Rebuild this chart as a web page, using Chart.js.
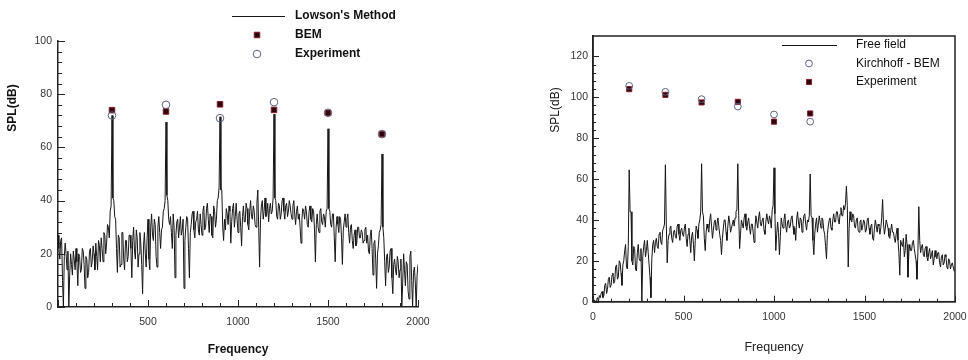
<!DOCTYPE html>
<html>
<head>
<meta charset="utf-8">
<script src="https://cdn.jsdelivr.net/npm/chart.js@4.4.0/dist/chart.umd.min.js"></script>
<style>
  html, body { margin: 0; padding: 0; background: #fff; }
  #wrap { position: relative; width: 968px; height: 360px; }
  .box { position: absolute; top: 0; width: 484px; height: 360px; }
  #boxL { left: 0; }
  #boxR { left: 484px; }
</style>
</head>
<body>
<div id="wrap">
  <div class="box" id="boxL"><canvas id="chartL" width="484" height="360"></canvas></div>
  <div class="box" id="boxR"><canvas id="chartR" width="484" height="360"></canvas></div>
</div>
<script>
// spectrum sampled every 5 Hz, 0..2000
var freq = Array.from({ length: 401 }, function (v, i) { return i * 5; });

// left chart: Lowson's method spectrum (one row = 100 Hz)
var lowsonSpl = [
  27, 22, 18, 25, 26, 10, 0, 19, 24, 20, 14, 21, 0, 12, 20, 16, 12, 21, 18, 14,
  22, 17, 8, 20, 19, 13, 14, 22, 21, 16, 7, 19, 18, 11, 13, 21, 22, 15, 17, 23,
  20, 14, 24, 19, 14, 25, 23, 17, 26, 22, 17, 28, 27, 20, 24, 31, 30, 26, 36, 38,
  72, 41, 40, 34, 33, 22, 13, 27, 26, 15, 16, 28, 28, 18, 14, 25, 25, 17, 19, 27,
  27, 22, 11, 25, 30, 21, 18, 29, 26, 15, 20, 28, 24, 16, 5, 23, 28, 20, 15, 26,
  33, 18, 14, 30, 35, 27, 25, 33, 31, 19, 15, 30, 34, 28, 22, 29, 30, 36, 37, 40,
  69.5, 42, 40, 33, 31, 34, 28, 22, 35, 30, 11, 27, 32, 33, 26, 30, 34, 27, 29, 33,
  7, 25, 30, 34, 33, 22, 11, 28, 31, 35, 36, 29, 26, 32, 33, 36, 29, 27, 35, 31,
  27, 36, 38, 29, 30, 37, 39, 33, 28, 35, 34, 27, 26, 38, 36, 30, 33, 40, 41, 45,
  71.5, 44, 44, 30, 25, 33, 29, 37, 35, 31, 38, 36, 24, 32, 37, 39, 30, 34, 39, 33,
  28, 35, 36, 30, 23, 34, 38, 32, 32, 39, 37, 31, 29, 36, 40, 34, 33, 38, 36, 31,
  30, 39, 44, 30, 15, 33, 38, 40, 33, 36, 41, 34, 35, 39, 32, 37, 39, 35, 36, 41,
  72.5, 41, 40, 34, 33, 39, 38, 33, 35, 40, 41, 36, 33, 38, 39, 34, 36, 40, 38, 35,
  33, 38, 40, 35, 31, 36, 38, 33, 35, 30, 24, 33, 37, 36, 33, 38, 36, 31, 30, 36,
  38, 33, 32, 37, 36, 29, 17, 31, 35, 30, 28, 36, 37, 32, 31, 35, 34, 30, 36, 37,
  67, 37, 36, 31, 30, 35, 35, 26, 17, 30, 34, 31, 28, 34, 33, 26, 16, 29, 32, 35,
  30, 33, 35, 28, 24, 30, 31, 25, 22, 27, 29, 23, 24, 30, 30, 26, 26, 29, 28, 24,
  25, 29, 30, 24, 27, 21, 20, 27, 29, 22, 12, 24, 25, 18, 7, 20, 23, 28, 29, 31,
  57.5, 30, 26, 17, 8, 19, 20, 13, 15, 21, 22, 11, 5, 16, 18, 14, 12, 19, 17, 11,
  14, 18, 0, 9, 20, 14, 8, 17, 16, 6, 3, 19, 21, 10, 0, 13, 15, 9, 0, 12,
  16
];
var harmLeft = [300, 600, 900, 1200, 1500, 1800];
var bemLeft = [74, 73.5, 76.2, 74.1, 73, 65];
var expLeft = [72, 76, 71, 77, 73, 65];

// right chart: free field spectrum (one row = 100 Hz)
var freeFieldSpl = [
  0, 1, 0, 0, 1, 2, 0, 3, 2, 4, 5, 2, 3, 8, 9, 4, 6, 11, 12, 7,
  8, 13, 14, 9, 10, 17, 18, 11, 12, 20, 19, 14, 8, 18, 20, 25, 28, 17, 16, 27,
  64.5, 44, 44, 20, 18, 27, 26, 16, 15, 24, 28, 21, 20, 26, 0, 22, 27, 30, 22, 25,
  30, 24, 18, 12, 2, 21, 28, 30, 24, 29, 31, 27, 26, 33, 34, 29, 28, 35, 36, 38,
  67, 38, 19, 30, 33, 36, 37, 31, 29, 34, 35, 32, 31, 37, 38, 33, 30, 35, 36, 33,
  32, 36, 38, 31, 27, 33, 36, 30, 24, 32, 34, 28, 20, 30, 37, 35, 31, 38, 40, 44,
  67.5, 44, 42, 31, 25, 34, 38, 36, 34, 40, 43, 37, 31, 35, 39, 40, 35, 38, 41, 37,
  33, 30, 23, 31, 36, 40, 40, 34, 30, 37, 42, 39, 34, 36, 38, 40, 37, 41, 44, 45,
  67.5, 42, 26, 33, 40, 38, 36, 41, 43, 37, 35, 39, 41, 36, 33, 38, 38, 34, 29, 36,
  42, 39, 36, 41, 44, 38, 37, 40, 41, 35, 33, 39, 43, 40, 38, 42, 40, 36, 45, 47,
  65.5, 43, 25, 33, 39, 34, 23, 32, 41, 38, 36, 40, 43, 37, 34, 39, 40, 36, 37, 41,
  42, 37, 33, 36, 30, 40, 44, 39, 36, 41, 40, 34, 38, 42, 43, 38, 35, 40, 39, 42,
  62.5, 42, 41, 30, 23, 33, 38, 41, 34, 38, 42, 39, 36, 41, 40, 35, 33, 27, 21, 33,
  37, 40, 41, 36, 35, 40, 43, 39, 39, 44, 44, 40, 38, 43, 46, 42, 42, 47, 45, 48,
  56.5, 47, 17, 36, 44, 40, 39, 43, 42, 37, 36, 40, 41, 35, 34, 39, 40, 35, 37, 40,
  39, 34, 35, 40, 41, 36, 33, 37, 38, 31, 30, 36, 40, 37, 34, 38, 37, 33, 36, 41,
  50, 38, 33, 36, 40, 38, 36, 32, 31, 35, 38, 34, 34, 31, 29, 33, 36, 30, 24, 13,
  30, 28, 27, 31, 22, 25, 33, 28, 12, 24, 28, 25, 25, 29, 30, 26, 23, 20, 11, 24,
  46.5, 30, 24, 27, 28, 23, 22, 26, 27, 22, 20, 24, 26, 21, 23, 25, 18, 21, 25, 22,
  21, 24, 24, 19, 17, 22, 23, 18, 19, 23, 22, 17, 16, 21, 20, 16, 18, 19, 17, 15,
  15
];
var harmRight = [200, 400, 600, 800, 1000, 1200];
var kirchhoffRight = [105.6, 102.7, 99.1, 95.5, 91.6, 88.1];
var expRight = [104, 101.2, 97.5, 97.8, 88.1, 92.1];

// tick labels
var xLabelsLeft = [500, 1000, 1500, 2000];
var yLabelsLeft = [0, 20, 40, 60, 80, 100];
var xLabelsRight = [0, 500, 1000, 1500, 2000];
var yLabelsRight = [0, 20, 40, 60, 80, 100, 120];

function pairs(xs, ys) {
  return ys.map(function (v, i) { return { x: xs[i], y: v }; });
}

var innerTicks = {
  id: 'innerTicks',
  afterDraw: function (chart, args, opts) {
    var ctx = chart.ctx;
    var area = chart.chartArea;
    var xs = chart.scales.x, ys = chart.scales.y;
    ctx.save();
    ctx.strokeStyle = '#222';
    ctx.lineWidth = 1;
    ctx.beginPath();
    xs.ticks.forEach(function (t) {
      var px = Math.round(xs.getPixelForValue(t.value)) + 0.5;
      var len = t.value % opts.xMajor === 0 ? opts.major : opts.minor;
      ctx.moveTo(px, area.bottom);
      ctx.lineTo(px, area.bottom - len);
    });
    ys.ticks.forEach(function (t) {
      if (t.value > opts.yTop) return;
      var py = Math.round(ys.getPixelForValue(t.value)) + 0.5;
      var len = t.value % opts.yMajor === 0 ? opts.major : opts.minor;
      ctx.moveTo(area.left, py);
      ctx.lineTo(area.left + len, py);
    });
    ctx.stroke();
    if (opts.box) {
      ctx.lineWidth = 1.5;
      ctx.strokeRect(area.left, area.top, area.right - area.left, area.bottom - area.top);
    }
    ctx.restore();
  }
};

var sideLegend = {
  id: 'sideLegend',
  afterDraw: function (chart, args, opts) {
    var ctx = chart.ctx;
    ctx.save();
    ctx.font = opts.font;
    ctx.textBaseline = 'middle';
    chart.data.datasets.forEach(function (ds, i) {
      var y = opts.top + i * opts.rowH;
      if (ds.showLine !== false) {
        ctx.strokeStyle = ds.borderColor;
        ctx.lineWidth = 1;
        ctx.beginPath();
        ctx.moveTo(opts.lineX0, y + 0.5);
        ctx.lineTo(opts.lineX1, y + 0.5);
        ctx.stroke();
      } else {
        var r = ds.pointRadius;
        ctx.fillStyle = ds.pointBackgroundColor;
        ctx.strokeStyle = ds.pointBorderColor;
        ctx.lineWidth = 1;
        ctx.beginPath();
        if (ds.pointStyle === 'rect') {
          var h = r * Math.SQRT1_2;
          ctx.rect(opts.markX - h, y - h, 2 * h, 2 * h);
        } else {
          ctx.arc(opts.markX, y, r, 0, Math.PI * 2);
        }
        ctx.fill();
        ctx.stroke();
      }
      ctx.fillStyle = '#111';
      ctx.fillText(ds.label, opts.textX, y);
    });
    // rotated y axis title
    ctx.translate(opts.yTitleX, opts.yTitleY);
    ctx.rotate(-Math.PI / 2);
    ctx.font = opts.yTitleFont;
    ctx.textAlign = 'center';
    ctx.fillText(opts.yTitle, 0, 0);
    ctx.restore();
  }
};

var tickFont = { family: 'Liberation Sans', size: 10.5 };

// ---- left chart ----
new Chart(document.getElementById('chartL').getContext('2d'), {
  type: 'line',
  data: {
    datasets: [{
      label: "Lowson's Method",
      data: pairs(freq, lowsonSpl),
      borderColor: '#151515',
      borderWidth: 1,
      pointRadius: 0,
      tension: 0,
      order: 3
    }, {
      label: 'BEM',
      data: pairs(harmLeft, bemLeft),
      showLine: false,
      pointStyle: 'rect',
      pointRadius: 3.9,
      pointBackgroundColor: '#2a0509',
      pointBorderColor: '#8a1c2a',
      pointBorderWidth: 1,
      order: 2
    }, {
      label: 'Experiment',
      data: pairs(harmLeft, expLeft),
      showLine: false,
      pointStyle: 'circle',
      pointRadius: 3.8,
      pointBackgroundColor: 'rgba(255,255,255,0)',
      pointBorderColor: '#5a6484',
      pointBorderWidth: 1,
      order: 1
    }]
  },
  options: {
    responsive: false,
    animation: false,
    layout: { padding: { left: 0, right: 66, top: 41, bottom: 0 } },
    plugins: {
      legend: { display: false },
      tooltip: { enabled: false },
      innerTicks: { xMajor: 500, yMajor: 20, major: 7, minor: 4, yTop: 100, box: false },
      sideLegend: {
        font: 'bold 12px "Liberation Sans"', top: 16, rowH: 19,
        lineX0: 232, lineX1: 285, markX: 257, textX: 295,
        yTitle: 'SPL(dB)', yTitleX: 13, yTitleY: 108, yTitleFont: 'bold 12px "Liberation Sans"'
      }
    },
    scales: {
      x: {
        type: 'linear', min: 0, max: 2000,
        grid: { display: false, drawTicks: false },
        border: { display: true, color: '#222', width: 1.5 },
        ticks: {
          stepSize: 100, autoSkip: false, maxRotation: 0, padding: 9,
          color: '#333', font: tickFont,
          callback: function (v) { return xLabelsLeft.includes(v) ? String(v) : ''; }
        },
        title: {
          display: true, text: 'Frequency', color: '#111',
          font: { family: 'Liberation Sans', size: 12, weight: 'bold' },
          padding: { top: 0, bottom: 3 }
        },
        afterFit: function (s) { s.height = 53; }
      },
      y: {
        min: 0, max: 100,
        grid: { display: false, drawTicks: false },
        border: { display: true, color: '#222', width: 1.5 },
        ticks: {
          stepSize: 4, autoSkip: false, padding: 6,
          color: '#333', font: tickFont,
          callback: function (v) { return yLabelsLeft.includes(v) ? String(v) : ''; }
        },
        afterFit: function (s) { s.width = 58; }
      }
    }
  },
  plugins: [innerTicks, sideLegend]
});

// ---- right chart ----
new Chart(document.getElementById('chartR').getContext('2d'), {
  type: 'line',
  data: {
    datasets: [{
      label: 'Free field',
      data: pairs(freq, freeFieldSpl),
      borderColor: '#151515',
      borderWidth: 1,
      pointRadius: 0,
      tension: 0,
      order: 3
    }, {
      label: 'Kirchhoff - BEM',
      data: pairs(harmRight, kirchhoffRight),
      showLine: false,
      pointStyle: 'circle',
      pointRadius: 3.4,
      pointBackgroundColor: 'rgba(255,255,255,0)',
      pointBorderColor: '#5a6484',
      pointBorderWidth: 1,
      order: 1
    }, {
      label: 'Experiment',
      data: pairs(harmRight, expRight),
      showLine: false,
      pointStyle: 'rect',
      pointRadius: 3.6,
      pointBackgroundColor: '#2a0509',
      pointBorderColor: '#8a1c2a',
      pointBorderWidth: 1,
      order: 2
    }]
  },
  options: {
    responsive: false,
    animation: false,
    layout: { padding: { left: 0, right: 13, top: 36, bottom: 0 } },
    plugins: {
      legend: { display: false },
      tooltip: { enabled: false },
      innerTicks: { xMajor: 500, yMajor: 20, major: 6, minor: 3, yTop: 120, box: true },
      sideLegend: {
        font: '12px "Liberation Sans"', top: 45, rowH: 18.5,
        lineX0: 298, lineX1: 353, markX: 325, textX: 372,
        yTitle: 'SPL(dB)', yTitleX: 72, yTitleY: 110, yTitleFont: '12px "Liberation Sans"'
      }
    },
    scales: {
      x: {
        type: 'linear', min: 0, max: 2000,
        grid: { display: false, drawTicks: false },
        border: { display: true, color: '#222', width: 1.5 },
        ticks: {
          stepSize: 100, autoSkip: false, maxRotation: 0, padding: 9,
          color: '#333', font: tickFont,
          callback: function (v) { return xLabelsRight.includes(v) ? String(v) : ''; }
        },
        title: {
          display: true, text: 'Frequency', color: '#222',
          font: { family: 'Liberation Sans', size: 12.5 },
          padding: { top: 0, bottom: 5 }
        },
        afterFit: function (s) { s.height = 58.3; s.paddingRight = 0; }
      },
      y: {
        min: 0, max: 130,
        grid: { display: false, drawTicks: false },
        border: { display: true, color: '#222', width: 1.5 },
        ticks: {
          stepSize: 4, autoSkip: false, padding: 5,
          color: '#333', font: tickFont,
          callback: function (v) { return yLabelsRight.includes(v) ? String(v) : ''; }
        },
        afterFit: function (s) { s.width = 109; }
      }
    }
  },
  plugins: [innerTicks, sideLegend]
});
</script>
</body>
</html>
